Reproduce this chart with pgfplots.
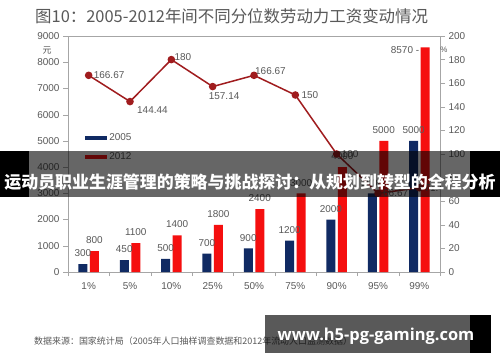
\documentclass[border=0pt]{standalone}
\usepackage{pgfplots}
\pgfplotsset{compat=1.18}
\usepackage{fontspec}
\setmainfont{Liberation Sans}
\newfontfamily\cjk{Noto Sans CJK SC}
\newfontfamily\wm{Open Sans}
\definecolor{navy}{HTML}{102A63}
\definecolor{bred}{HTML}{F50F0F}
\definecolor{lred}{HTML}{A01C1E}
\definecolor{tgray}{HTML}{595959}
\definecolor{agray}{HTML}{A6A6A6}
\begin{document}
\begin{tikzpicture}[x=1bp,y=1bp]
\fill[white] (0,0) rectangle (500,362);
\path[use as bounding box] (0,0) rectangle (500,362);
\node[anchor=west, text=tgray, font=\cjk\fontsize{16.5}{18}\selectfont, inner sep=0pt] at (35,346) {图10：2005-2012年间不同分位数劳动力工资变动情况};
\begin{axis}[
  at={(68bp,90bp)}, anchor=south west,
  width=372bp, height=236bp, scale only axis,
  xmin=-0.5, xmax=8.5, ymin=0, ymax=9000,
  ybar=2.5bp, bar width=9bp,
  xtick={0,...,8},
  xticklabels={1\%,5\%,10\%,25\%,50\%,75\%,90\%,95\%,99\%},
  minor xtick={-0.5,0.5,...,8.5},
  major x tick style={draw=none},
  minor x tick style={agray},
  minor tick length=4bp,
  major tick length=5bp,
  xtick pos=bottom, ytick pos=left,
  ytick={0,1000,...,9000},
  scaled y ticks=false,
  axis line style={agray},
  tick style={agray},
  tick align=outside,
  /pgf/number format/assume math mode=true,
  /pgf/number format/1000 sep={},
  tick label style={font=\fontsize{10}{12}\selectfont, text=tgray},
  xticklabel style={yshift=-2bp},
  nodes near coords,
  point meta=explicit symbolic,
  every node near coord/.append style={font=\fontsize{10}{12}\selectfont, text=tgray, anchor=south, inner sep=0pt, yshift=7bp},
  legend style={at={(0.038,0.605)}, anchor=north west, draw=none, fill=none,
    font=\fontsize{10}{12}\selectfont, text=tgray, row sep=7bp,
    /tikz/every even column/.append style={column sep=2bp}},
  legend cell align=left,
]
\addplot[fill=navy, draw=none,
  legend image code/.code={\fill[navy] (0bp,-2bp) rectangle (22bp,2bp);}]
  coordinates {(0,300)[300] (1,450)[450] (2,500)[500] (3,700)[700] (4,900)[900]
               (5,1200)[1200] (6,2000)[2000] (7,3000)[3000] (8,5000)[5000]};
\addlegendentry{2005}
\addplot[fill=bred, draw=none,
  legend image code/.code={\fill[bred] (0bp,-2bp) rectangle (22bp,2bp);}]
  coordinates {(0,800)[800] (1,1100)[1100] (2,1400)[1400] (3,1800)[1800] (4,2400)[2400]
               (5,3000)[3000] (6,4000)[4000] (7,5000)[5000] (8,8570)[]};
\addlegendentry{2012}
\node[anchor=east, font=\fontsize{10}{12}\selectfont, text=tgray, inner sep=0pt] at (axis cs:8,8450) {8570 -};
\end{axis}
\begin{axis}[
  at={(68bp,90bp)}, anchor=south west,
  width=372bp, height=236bp, scale only axis,
  xmin=-0.5, xmax=8.5, ymin=0, ymax=200,
  axis x line=none, axis y line*=right,
  ytick={0,20,...,200},
  axis line style={agray},
  tick style={agray},
  major tick length=5bp,
  tick align=outside,
  /pgf/number format/assume math mode=true,
  tick label style={font=\fontsize{10}{12}\selectfont, text=tgray},
]
\addplot[lred, line width=1.5bp, mark=*, mark size=3bp, mark options={fill=lred, draw=lred}]
  coordinates {(0,166.67) (1,144.44) (2,180) (3,157.14) (4,166.67) (5,150) (6,100) (7,66.67) (8,71.4)};
\begin{scope}[every node/.style={font=\fontsize{10}{12}\selectfont, text=tgray, inner sep=0pt}]
\node[anchor=west] at ([xshift=5bp]axis cs:0,166.67) {166.67};
\node[anchor=north west] at ([xshift=7bp,yshift=-5bp]axis cs:1,144.44) {144.44};
\node[anchor=south west] at ([xshift=3bp,yshift=-1bp]axis cs:2,180) {180};
\node[anchor=north west] at ([xshift=-4bp,yshift=-6bp]axis cs:3,157.14) {157.14};
\node[anchor=south west] at ([xshift=1bp,yshift=1bp]axis cs:4,166.67) {166.67};
\node[anchor=west] at ([xshift=6bp]axis cs:5,150) {150};
\node[anchor=west] at ([xshift=5bp]axis cs:6,100) {100};
\node[anchor=west] at ([xshift=5bp]axis cs:7,66.67) {66.67};
\node[anchor=west] at ([xshift=5bp]axis cs:8,71.4) {71.4};
\end{scope}
\end{axis}
\node[text=tgray, font=\cjk\fontsize{9}{10}\selectfont, inner sep=0pt] at (47,312) {元};
\node[text=tgray, font=\fontsize{8}{10}\selectfont, inner sep=0pt] at (444,312) {\%};
% source line
\node[anchor=west, text=tgray, font=\cjk\fontsize{9}{10}\selectfont, inner sep=0pt] at (34,21) {数据来源：国家统计局（2005年人口抽样调查数据和2012年流动人口监测数据）};
% banner overlay
\fill[black, opacity=0.6] (29,165) rectangle (470,211);
\fill[black] (0,165) rectangle (29,211);
\fill[black] (470,165) rectangle (500,211);
\node[text=white, font=\cjk\bfseries\fontsize{17}{19}\selectfont, inner sep=0pt] at (250,180) {运动员职业生涯管理的策略与挑战探讨：从规划到转型的全程分析};
% watermark box
\fill[black, opacity=0.65] (265,9) rectangle (470,47);
\fill[black] (470,9) rectangle (491,47);
\node[text=white, font=\wm\bfseries\fontsize{16.5}{18}\selectfont, inner sep=0pt] at (376,26) {www.h5-pg-gaming.com};
\end{tikzpicture}
\end{document}
